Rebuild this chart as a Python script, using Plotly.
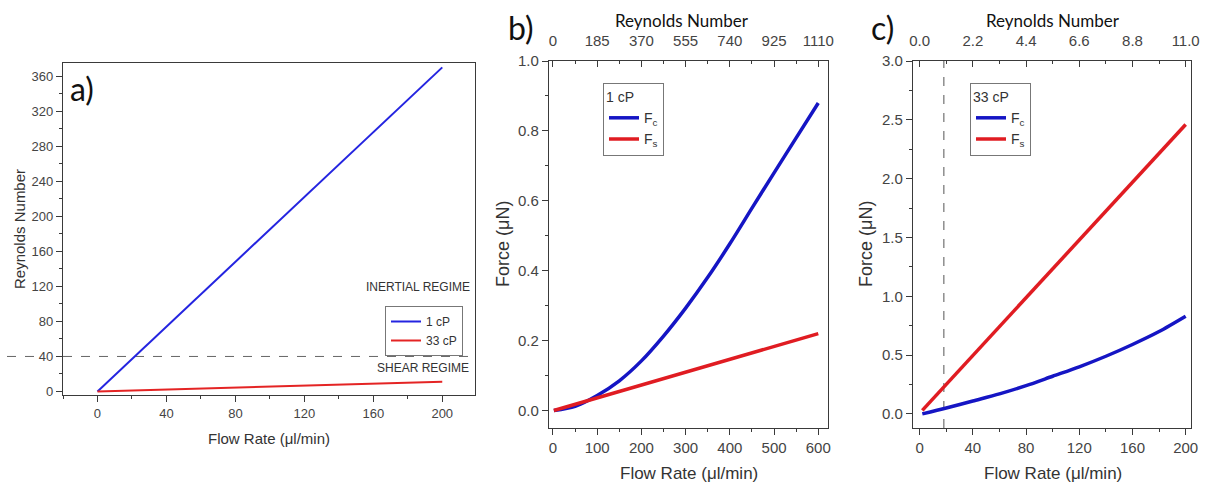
import plotly.graph_objects as go

# ---------------- data ----------------
# panel a: Reynolds number vs flow rate
flow_a = [0, 200]
re_1cp = [0, 370]
re_33cp = [0, 11]
re_threshold_a = 40

# panel b: forces at 1 cP
flow_b = [2, 50, 100, 150, 200, 250, 300, 350, 400, 450, 500, 550, 600]
fc_b = [0.0, 0.012, 0.043, 0.085, 0.142, 0.213, 0.293, 0.381, 0.477, 0.579, 0.68, 0.78, 0.88]
flow_b_fs = [2, 600]
fs_b = [0.0, 0.22]
re_ticks_b = [0, 185, 370, 555, 740, 925, 1110]
flow_ticks_b = [0, 100, 200, 300, 400, 500, 600]

# panel c: forces at 33 cP
flow_c = [2, 20, 40, 60, 80, 100, 120, 140, 160, 180, 200]
fc_c = [0.0, 0.05, 0.11, 0.17, 0.24, 0.32, 0.40, 0.49, 0.59, 0.70, 0.83]
flow_c_fs = [2, 200]
fs_c = [0.03, 2.46]
re_ticks_c = [0.0, 2.2, 4.4, 6.6, 8.8, 11.0]
re_ticklabels_c = ["0.0", "2.2", "4.4", "6.6", "8.8", "11.0"]
flow_ticks_c = [0, 40, 80, 120, 160, 200]
threshold_flow_c = 18.2  # Re = 1

# ---------------- helpers ----------------
W, H = 1211, 489


def px_x(p):
    return p / W


def px_y(p):
    return 1 - p / H


AX = "#3a3a3a"
TICKC = "#444444"
FONT = "Liberation Sans, Arial, sans-serif"
CAL = "Lato, Carlito, Calibri, sans-serif"
BLUE_A, RED_A = "#2424e0", "#e42424"
BLUE, RED = "#1515c4", "#e01c22"

fig = go.Figure()

# panel a traces
fig.add_trace(go.Scatter(x=flow_a, y=re_1cp, mode="lines", name="1 cP",
                         line=dict(color=BLUE_A, width=2), xaxis="x", yaxis="y", legend="legend"))
fig.add_trace(go.Scatter(x=flow_a, y=re_33cp, mode="lines", name="33 cP",
                         line=dict(color=RED_A, width=2), xaxis="x", yaxis="y", legend="legend"))

# panel b traces
fig.add_trace(go.Scatter(x=flow_b, y=fc_b, mode="lines", name="F<sub>c</sub>",
                         line=dict(color=BLUE, width=3.5, shape="spline", smoothing=0.8),
                         xaxis="x2", yaxis="y2", legend="legend2"))
fig.add_trace(go.Scatter(x=flow_b_fs, y=fs_b, mode="lines", name="F<sub>s</sub>",
                         line=dict(color=RED, width=3.5), xaxis="x2", yaxis="y2", legend="legend2"))

# panel c traces
fig.add_trace(go.Scatter(x=flow_c, y=fc_c, mode="lines", name="F<sub>c</sub>",
                         line=dict(color=BLUE, width=3.5, shape="spline", smoothing=0.8),
                         xaxis="x3", yaxis="y3", legend="legend3"))
fig.add_trace(go.Scatter(x=flow_c_fs, y=fs_c, mode="lines", name="F<sub>s</sub>",
                         line=dict(color=RED, width=3.5), xaxis="x3", yaxis="y3", legend="legend3"))

# invisible traces to activate the top axes
fig.add_trace(go.Scatter(x=[], y=[], xaxis="x4", yaxis="y2", showlegend=False))
fig.add_trace(go.Scatter(x=[], y=[], xaxis="x5", yaxis="y3", showlegend=False))


def base_axis(**kw):
    d = dict(showline=True, linecolor=AX, linewidth=1.3, showgrid=False, zeroline=False,
             ticks="outside", ticklen=6, tickwidth=1.2, tickcolor=AX, automargin=False,
             tickfont=dict(family=FONT, size=15, color=TICKC))
    d.update(kw)
    return d


# domains
xa = [px_x(63), px_x(475)]
ya = [px_y(395), px_y(63)]
xb = [px_x(549), px_x(828)]
xc = [px_x(913), px_x(1191)]
ybc = [px_y(428), px_y(61)]

rb = [-9, 622]
rc = [-5, 204]
re_scale_b = re_ticks_b[-1] / flow_ticks_b[-1]
re_scale_c = re_ticks_c[-1] / flow_ticks_c[-1]

minor_small = dict(ticklen=3, tickcolor=AX, tickwidth=1.1, ticks="outside", showgrid=False)

fig.update_layout(
    template="none",
    width=W, height=H, autosize=False,
    margin=dict(l=0, r=0, t=0, b=0, pad=0),
    paper_bgcolor="white", plot_bgcolor="white",
    xaxis=base_axis(domain=xa, range=[-20, 219], anchor="y", mirror=True,
                    tickvals=[0, 40, 80, 120, 160, 200],
                    tickfont=dict(family=FONT, size=13, color=TICKC),
                    minor=dict(dtick=20, tick0=0, **minor_small)),
    yaxis=base_axis(domain=ya, range=[-4, 375], anchor="x", mirror=True,
                    tickvals=[0, 40, 80, 120, 160, 200, 240, 280, 320, 360],
                    tickfont=dict(family=FONT, size=13, color=TICKC),
                    minor=dict(dtick=20, tick0=0, **minor_small)),
    xaxis2=base_axis(domain=xb, range=rb, anchor="y2",
                     tickvals=flow_ticks_b,
                     minor=dict(dtick=50, tick0=0, **minor_small)),
    yaxis2=base_axis(domain=ybc, range=[-0.05, 1.0], anchor="x2", mirror=True,
                     dtick=0.2, tick0=0, tickformat=".1f",
                     minor=dict(dtick=0.1, tick0=0, **minor_small)),
    xaxis4=base_axis(overlaying="x2", side="top", anchor="y2",
                     range=[rb[0] * re_scale_b, rb[1] * re_scale_b],
                     tickvals=re_ticks_b, ticks="inside", ticklabelstandoff=8,
                     minor=dict(dtick=re_ticks_b[1] / 2, tick0=0, ticklen=3, tickcolor=AX,
                                tickwidth=1.1, ticks="inside", showgrid=False)),
    xaxis3=base_axis(domain=xc, range=rc, anchor="y3",
                     tickvals=flow_ticks_c,
                     minor=dict(dtick=20, tick0=0, **minor_small)),
    yaxis3=base_axis(domain=ybc, range=[-0.12, 3.0], anchor="x3", mirror=True,
                     dtick=0.5, tick0=0, tickformat=".1f",
                     minor=dict(dtick=0.25, tick0=0, **minor_small)),
    xaxis5=base_axis(overlaying="x3", side="top", anchor="y3",
                     range=[rc[0] * re_scale_c, rc[1] * re_scale_c],
                     tickvals=re_ticks_c, ticktext=re_ticklabels_c, ticks="inside",
                     ticklabelstandoff=8,
                     minor=dict(dtick=re_ticks_c[1] / 2, tick0=0, ticklen=3, tickcolor=AX,
                                tickwidth=1.1, ticks="inside", showgrid=False)),
    legend=dict(x=px_x(385), y=px_y(306), xanchor="left", yanchor="top",
                bgcolor="white", bordercolor="#777", borderwidth=1,
                font=dict(family=FONT, size=12, color="#333"),
                itemwidth=30, tracegroupgap=0),
    legend2=dict(x=px_x(603), y=px_y(83), xanchor="left", yanchor="top",
                 bgcolor="white", bordercolor="#777", borderwidth=1,
                 title=dict(text="1 cP", font=dict(family=FONT, size=14, color="#333")),
                 font=dict(family=FONT, size=14, color="#333"),
                 itemwidth=30, tracegroupgap=0),
    legend3=dict(x=px_x(970), y=px_y(83), xanchor="left", yanchor="top",
                 bgcolor="white", bordercolor="#777", borderwidth=1,
                 title=dict(text="33 cP", font=dict(family=FONT, size=14, color="#333")),
                 font=dict(family=FONT, size=14, color="#333"),
                 itemwidth=30, tracegroupgap=0),
)

# dashed lines
fig.add_shape(type="line", xref="paper", yref="y", x0=px_x(63), x1=px_x(475),
              y0=re_threshold_a, y1=re_threshold_a,
              line=dict(color="#666", width=1, dash="dash"), layer="below")
fig.add_shape(type="line", xref="paper", yref="y", x0=px_x(7), x1=px_x(34),
              y0=re_threshold_a, y1=re_threshold_a,
              line=dict(color="#666", width=1, dash="dash"))
fig.add_shape(type="line", xref="x3", yref="y3 domain", x0=threshold_flow_c, x1=threshold_flow_c,
              y0=0, y1=1, line=dict(color="#555", width=1, dash="dash"), layer="below")


def ann(text, x, y, size, family=FONT, color="#333", angle=0, xanchor="center"):
    fig.add_annotation(text=text, x=px_x(x), y=px_y(y), xref="paper", yref="paper",
                       showarrow=False, textangle=angle, xanchor=xanchor, yanchor="middle",
                       font=dict(family=family, size=size, color=color))


# axis titles
ann("Reynolds Number", 19, 229, 15, angle=-90)
ann("Flow Rate (μl/min)", 269, 438, 15)
ann("Force (μN)", 503, 244, 18, angle=-90)
ann("Flow Rate (μl/min)", 689, 473, 17)
ann("Force (μN)", 866, 244, 18, angle=-90)
ann("Flow Rate (μl/min)", 1053, 473, 17)
ann("Reynolds Number", 682, 20, 17, family=CAL, color="#111")
ann("Reynolds Number", 1053, 20, 17, family=CAL, color="#111")

# regime labels
ann("INERTIAL REGIME", 472, 287, 12, xanchor="right")
ann("SHEAR REGIME", 471, 368, 12, xanchor="right")

# panel letters
ann("a)", 82, 88, 32, family=CAL, color="#111")
ann("b)", 521, 27, 32, family=CAL, color="#111")
ann("c)", 882, 27, 32, family=CAL, color="#111")

fig.write_html(
    "out.html",
    config={"displayModeBar": False},
    post_script="document.body.style.margin='0px';document.body.style.overflow='hidden';",
)
